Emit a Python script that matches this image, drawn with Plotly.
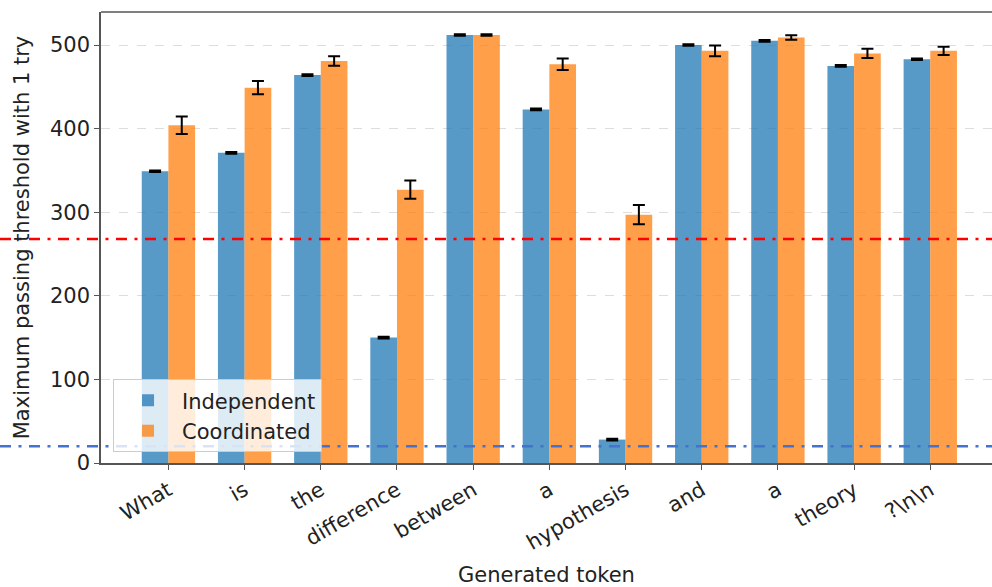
import plotly.graph_objects as go

tokens = ["What", "is", "the", "difference", "between", "a", "hypothesis", "and", "a", "theory", "?\\n\\n"]
independent = [349, 371, 464, 150, 512, 423, 28, 500, 505, 475, 483]
independent_err = [1, 1, 1, 1, 1, 1, 1, 1, 1, 1, 1]
coordinated = [404, 449, 481, 327, 512, 477, 297, 493, 509, 490, 493]
coordinated_err = [10.5, 8, 5.7, 10.8, 1, 6.8, 11.5, 6.4, 2.6, 5.6, 4.8]
red_threshold = 268
blue_threshold = 20
y_ticks = [0, 100, 200, 300, 400, 500]

x = list(range(len(tokens)))
FONT = "DejaVu Sans"
FS = 21

fig = go.Figure()
fig.add_trace(go.Bar(
    x=x, y=independent, name="Independent",
    marker=dict(color="rgba(31,119,180,0.75)", line=dict(width=0)),
    error_y=dict(type="data", array=independent_err, color="black", thickness=2, width=6),
))
fig.add_trace(go.Bar(
    x=x, y=coordinated, name="Coordinated",
    marker=dict(color="rgba(255,127,14,0.75)", line=dict(width=0)),
    error_y=dict(type="data", array=coordinated_err, color="black", thickness=2, width=6),
))

y_max = 539.5
for val, col in [(red_threshold, "#ff0000"), (blue_threshold, "#4472cf")]:
    fig.add_shape(type="line", xref="paper", yref="paper",
                  x0=-101 / 891, x1=1, y0=val / y_max, y1=val / y_max,
                  line=dict(color=col, width=2.5, dash="11px,7.5px,3px,7.5px"), layer="above")

# top spine
fig.add_shape(type="line", xref="paper", yref="paper", x0=0, x1=1, y0=1, y1=1,
              line=dict(color="#555", width=1.5), layer="above")

fig.update_layout(
    width=992, height=587,
    margin=dict(l=101, r=0, t=12, b=124),
    plot_bgcolor="white", paper_bgcolor="white",
    barmode="group", bargap=0.3, bargroupgap=0,
    font=dict(family=FONT, size=FS, color="#222"),
    legend=dict(x=0.0135, y=0.024, xanchor="left", yanchor="bottom",
                bgcolor="rgba(255,255,255,0.8)", bordercolor="#cccccc", borderwidth=1,
                font=dict(size=FS, color="#222"), tracegroupgap=4, itemwidth=58),
    xaxis=dict(range=[-0.885, 10.81], tickmode="array", tickvals=x, ticktext=tokens,
               tickangle=-30, showline=True, linecolor="#555", linewidth=1.5,
               ticks="outside", ticklen=5, tickcolor="#555", showgrid=False, zeroline=False,
               title=dict(text="Generated token", font=dict(size=FS), standoff=16),
               tickfont=dict(size=FS)),
    yaxis=dict(range=[0, y_max], tickmode="array", tickvals=y_ticks,
               showline=True, linecolor="#555", linewidth=1.5,
               ticks="outside", ticklen=5, tickcolor="#555",
               showgrid=True, gridcolor="#dddddd", griddash="dash", gridwidth=1, zeroline=False,
               title=dict(text="Maximum passing threshold with 1 try", font=dict(size=FS), standoff=15),
               tickfont=dict(size=FS)),
)

fig.write_html("out.html")
